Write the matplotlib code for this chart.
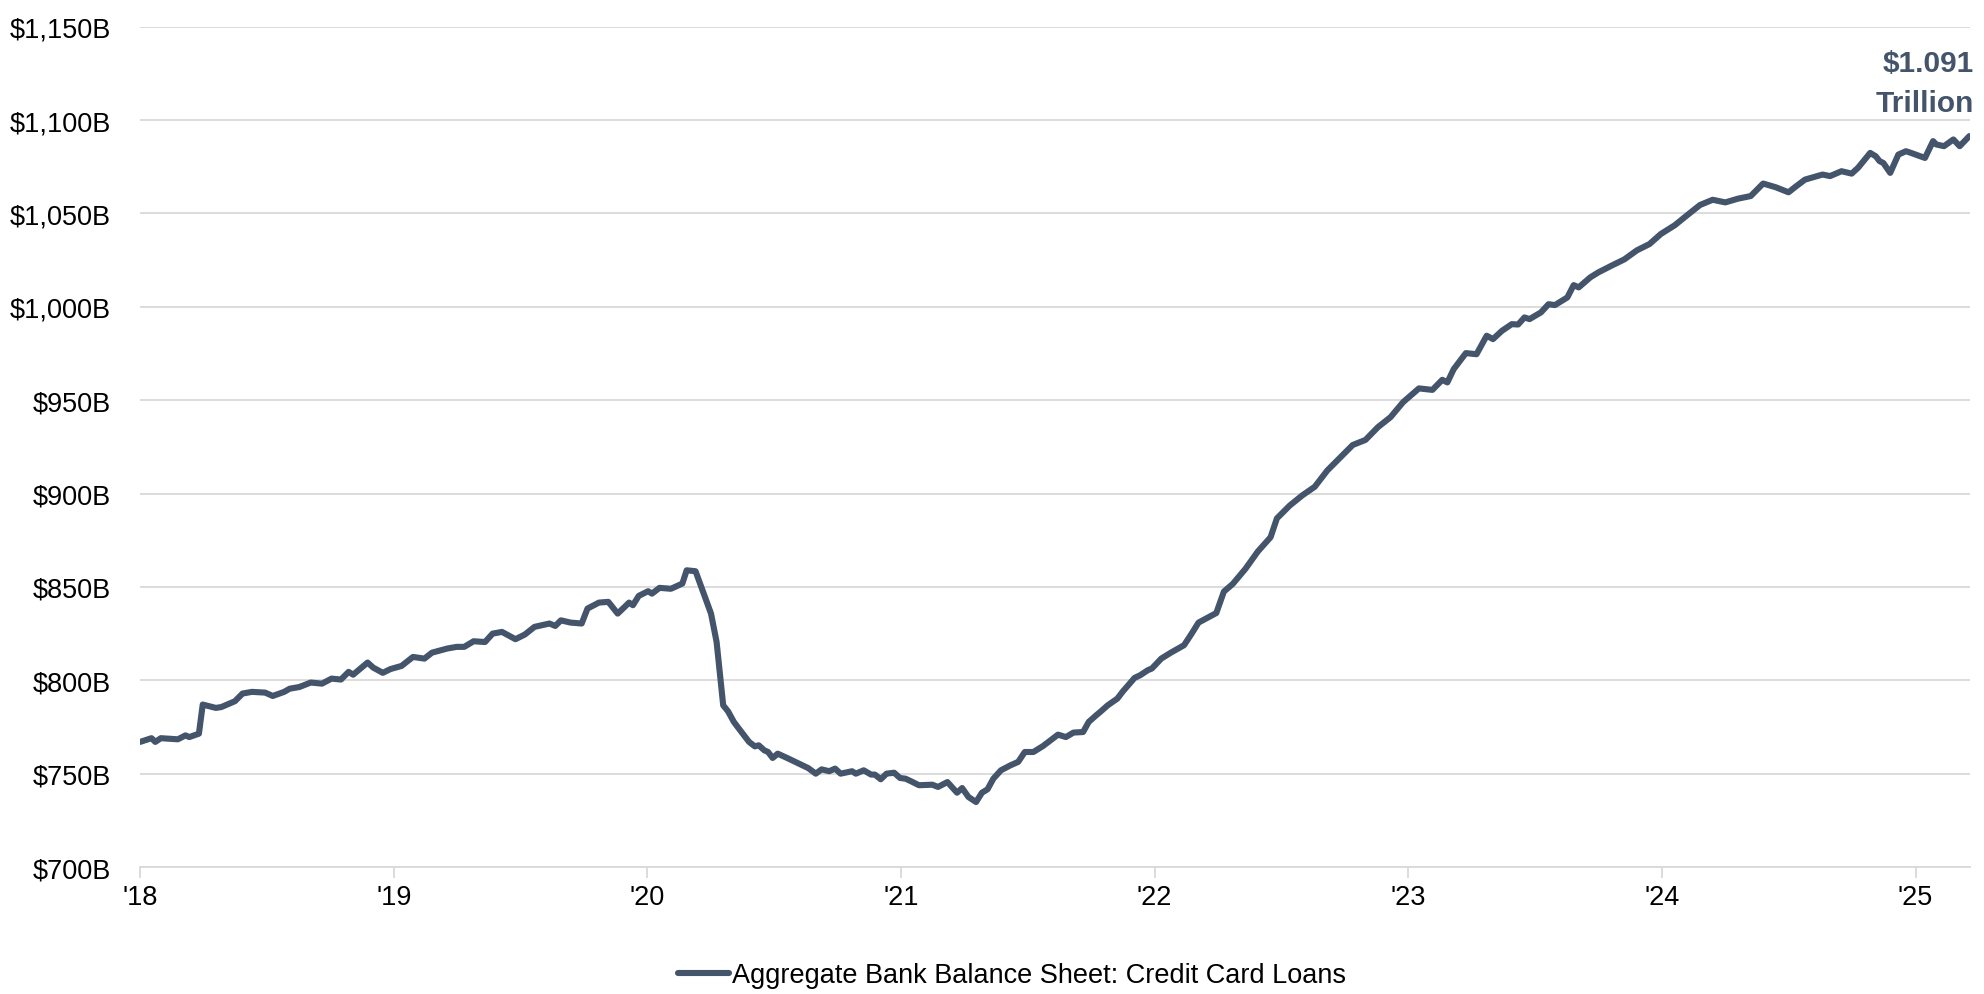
import matplotlib.pyplot as plt

# decimal year, $B
dates = [
    2018.000, 2018.045, 2018.060, 2018.082, 2018.149, 2018.179, 2018.194, 2018.232, 2018.247, 2018.299,
    2018.321, 2018.374, 2018.404, 2018.441, 2018.493, 2018.523, 2018.568, 2018.590, 2018.628, 2018.673,
    2018.717, 2018.755, 2018.792, 2018.822, 2018.840, 2018.897, 2018.919, 2018.957, 2018.987, 2019.031,
    2019.076, 2019.121, 2019.151, 2019.211, 2019.248, 2019.278, 2019.315, 2019.360, 2019.390, 2019.427,
    2019.480, 2019.517, 2019.555, 2019.614, 2019.637, 2019.659, 2019.697, 2019.741, 2019.764, 2019.809,
    2019.846, 2019.883, 2019.928, 2019.943, 2019.966, 2020.003, 2020.018, 2020.048, 2020.093, 2020.138,
    2020.155, 2020.190, 2020.251, 2020.273, 2020.299, 2020.318, 2020.341, 2020.371, 2020.401, 2020.424,
    2020.439, 2020.461, 2020.476, 2020.494, 2020.514, 2020.551, 2020.597, 2020.634, 2020.664, 2020.687,
    2020.717, 2020.740, 2020.762, 2020.807, 2020.822, 2020.853, 2020.882, 2020.897, 2020.920, 2020.943,
    2020.973, 2020.996, 2021.018, 2021.040, 2021.071, 2021.123, 2021.146, 2021.183, 2021.221, 2021.241,
    2021.266, 2021.296, 2021.319, 2021.341, 2021.364, 2021.394, 2021.432, 2021.462, 2021.488, 2021.522,
    2021.560, 2021.590, 2021.619, 2021.650, 2021.680, 2021.718, 2021.740, 2021.770, 2021.785, 2021.815,
    2021.853, 2021.875, 2021.921, 2021.943, 2021.973, 2021.989, 2022.026, 2022.064, 2022.116, 2022.146,
    2022.173, 2022.243, 2022.273, 2022.308, 2022.358, 2022.407, 2022.457, 2022.482, 2022.532, 2022.582,
    2022.631, 2022.681, 2022.731, 2022.781, 2022.831, 2022.880, 2022.930, 2022.980, 2023.042, 2023.095,
    2023.134, 2023.154, 2023.179, 2023.227, 2023.269, 2023.309, 2023.334, 2023.369, 2023.408, 2023.433,
    2023.458, 2023.478, 2023.523, 2023.553, 2023.578, 2023.627, 2023.652, 2023.672, 2023.717, 2023.749,
    2023.801, 2023.852, 2023.901, 2023.951, 2023.996, 2024.051, 2024.100, 2024.150, 2024.200, 2024.250,
    2024.300, 2024.350, 2024.399, 2024.449, 2024.499, 2024.524, 2024.564, 2024.633, 2024.663, 2024.708,
    2024.748, 2024.773, 2024.821, 2024.843, 2024.858, 2024.873, 2024.900, 2024.932, 2024.962, 2024.982,
    2025.037, 2025.069, 2025.082, 2025.112, 2025.149, 2025.174, 2025.212,
]
loans = [
    767.0, 769.0, 767.0, 769.0, 768.4, 770.5, 769.6, 771.4, 787.0, 785.2,
    785.7, 788.8, 792.9, 793.8, 793.4, 791.6, 793.8, 795.5, 796.4, 798.8,
    798.2, 800.9, 800.4, 804.5, 803.0, 809.5, 806.8, 804.0, 806.0, 807.7,
    812.5, 811.6, 814.8, 817.0, 817.9, 817.9, 820.9, 820.5, 825.0, 825.9,
    822.0, 824.5, 828.6, 830.4, 829.1, 832.1, 830.9, 830.4, 838.4, 841.6,
    842.0, 835.7, 841.6, 840.2, 845.2, 847.7, 846.4, 849.5, 849.0, 851.8,
    858.9, 858.4, 835.7, 820.5, 786.6, 783.4, 777.7, 772.3, 767.0, 764.6,
    765.2, 762.5, 761.6, 758.4, 760.7, 758.4, 755.4, 753.0, 750.0, 752.3,
    751.3, 752.7, 750.0, 751.3, 750.0, 751.8, 749.5, 749.5, 747.0, 750.0,
    750.5, 747.7, 747.3, 745.9, 743.8, 744.1, 742.9, 745.5, 739.8, 742.3,
    737.5, 734.8, 739.8, 741.6, 747.3, 751.8, 754.5, 756.3, 761.6, 761.6,
    764.8, 767.9, 770.9, 769.6, 772.0, 772.3, 777.7, 781.3, 783.0, 786.6,
    790.2, 794.1, 801.3, 802.7, 805.4, 806.3, 811.6, 814.8, 818.8, 825.0,
    830.9, 836.0, 847.5, 851.6, 859.7, 869.0, 876.6, 886.7, 893.5, 899.0,
    903.6, 912.4, 919.2, 926.0, 928.7, 935.5, 940.9, 949.0, 956.3, 955.5,
    960.9, 959.5, 966.6, 975.2, 974.6, 984.5, 982.7, 987.1, 990.7, 990.5,
    994.3, 993.4, 997.0, 1001.4, 1000.9, 1005.0, 1011.6, 1010.4, 1015.7, 1018.4,
    1022.0, 1025.4, 1030.2, 1033.6, 1039.0, 1043.7, 1049.1, 1054.5, 1057.3, 1055.9,
    1057.9, 1059.3, 1066.0, 1064.0, 1061.3, 1064.0, 1068.1, 1070.8, 1070.0, 1072.6,
    1071.3, 1074.4, 1082.4, 1080.6, 1078.0, 1077.0, 1071.7, 1081.5, 1083.3, 1082.4,
    1079.7, 1088.7, 1086.9, 1086.0, 1089.6, 1086.0, 1091.4,
]
year_ticks = [2018, 2019, 2020, 2021, 2022, 2023, 2024, 2025]
year_labels = ["'18", "'19", "'20", "'21", "'22", "'23", "'24", "'25"]
y_ticks = [700, 750, 800, 850, 900, 950, 1000, 1050, 1100, 1150]

plt.rcParams['font.family'] = ['Liberation Sans', 'DejaVu Sans']

navy = '#44546A'
grid = '#D9D9D9'

fig = plt.figure(figsize=(19.84, 9.95), dpi=100)
ax = fig.add_axes([0.0706, 0.1276, 0.9224, 0.8446])

ax.plot(dates, loans, color=navy, lw=4.4, solid_joinstyle='round', solid_capstyle='round',
        label='Aggregate Bank Balance Sheet: Credit Card Loans')

ax.set_xlim(2018, 2025.215)
ax.set_ylim(700, 1150)
ax.set_xticks(year_ticks)
ax.set_xticklabels(year_labels)
ax.set_yticks(y_ticks)
ax.set_yticklabels(['${:,}B'.format(v) for v in y_ticks])

ax.yaxis.grid(True, color=grid, lw=1.3)
ax.set_axisbelow(True)
for s in ['top', 'right', 'left']:
    ax.spines[s].set_visible(False)
ax.spines['bottom'].set_color(grid)
ax.spines['bottom'].set_linewidth(1.3)
ax.tick_params(axis='y', length=0, pad=21, labelsize=19.5, labelcolor='black')
ax.tick_params(axis='x', length=8, width=1.3, color=grid, pad=4, labelsize=19.5)

ax.annotate('$1.091\nTrillion', xy=(dates[-1], loans[-1]), xytext=(3, 18),
            textcoords='offset points', ha='right', va='baseline',
            fontsize=21.5, fontweight='bold', color=navy, linespacing=1.55)

fig.legend(loc='center', bbox_to_anchor=(0.5100, 0.019), frameon=False,
           fontsize=19.5, handlelength=1.9, handletextpad=0.1)

fig.savefig('out.png', dpi=100)
